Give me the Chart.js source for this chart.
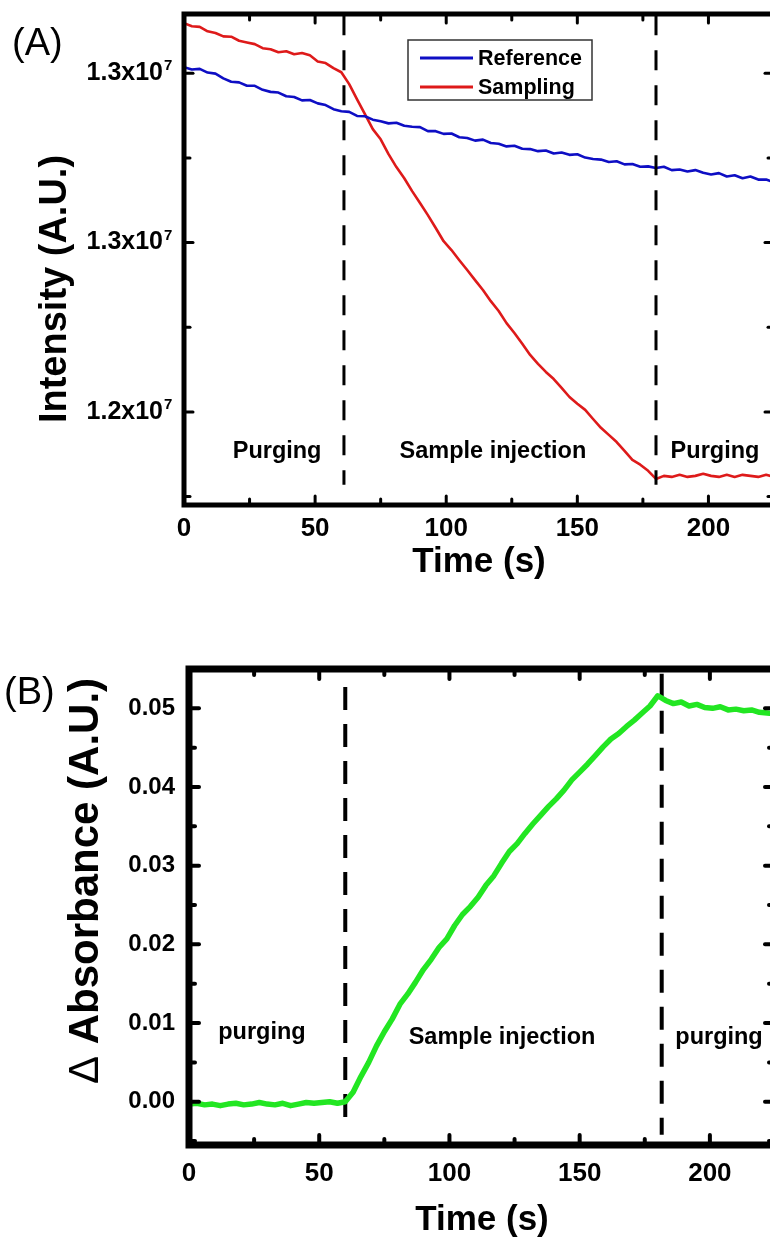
<!DOCTYPE html>
<html>
<head>
<meta charset="utf-8">
<title>Intensity and absorbance vs time</title>
<script src="https://cdn.jsdelivr.net/npm/chart.js@4.4.1/dist/chart.umd.min.js"></script>
<style>
  html, body { margin: 0; padding: 0; background: #fff; }
  body { width: 770px; height: 1243px; overflow: hidden; position: relative; }
  .panel { position: absolute; left: 0; }
</style>
</head>
<body>
<div class="panel" style="top:0"><canvas id="graficoA" width="780" height="610"></canvas></div>
<div class="panel" style="top:620px"><canvas id="graficoB" width="780" height="623"></canvas></div>
<script>
// time axis (s), shared by both panels
const timeS = [0, 3, 6, 9, 12, 15, 18, 21, 24, 27, 30, 33, 36, 39, 42, 45, 48, 51, 54, 57,
  60, 63, 66, 69, 72, 75, 78, 81, 84, 87, 90, 93, 96, 99, 102, 105, 108, 111, 114, 117,
  120, 123, 126, 129, 132, 135, 138, 141, 144, 147, 150, 153, 156, 159, 162, 165, 168, 171, 174, 177,
  180, 183, 186, 189, 192, 195, 198, 201, 204, 207, 210, 213, 216, 219, 222, 225];

// panel A: detector intensity (counts)
const referenceIntensity = [13018000, 13011000, 13013000, 13002000, 12999000, 12985000, 12975000, 12973000, 12963000, 12963000,
  12951000, 12945000, 12943000, 12932000, 12930000, 12920000, 12921000, 12911000, 12906000, 12894000,
  12888000, 12886000, 12874000, 12873000, 12863000, 12858000, 12852000, 12854000, 12845000, 12842000,
  12841000, 12829000, 12829000, 12821000, 12822000, 12811000, 12809000, 12801000, 12804000, 12794000,
  12792000, 12784000, 12786000, 12777000, 12776000, 12770000, 12772000, 12763000, 12766000, 12759000,
  12761000, 12751000, 12747000, 12745000, 12738000, 12740000, 12731000, 12732000, 12724000, 12725000,
  12720000, 12724000, 12714000, 12716000, 12710000, 12714000, 12706000, 12701000, 12705000, 12695000,
  12699000, 12690000, 12695000, 12686000, 12686000, 12678000];
const samplingIntensity = [13148000, 13139000, 13137000, 13124000, 13119000, 13109000, 13108000, 13096000, 13091000, 13086000,
  13074000, 13071000, 13062000, 13065000, 13056000, 13060000, 13053000, 13035000, 13030000, 13015000,
  13003000, 12968000, 12923000, 12879000, 12835000, 12805000, 12761000, 12723000, 12690000, 12652000,
  12617000, 12581000, 12543000, 12504000, 12478000, 12448000, 12419000, 12389000, 12360000, 12327000,
  12298000, 12262000, 12233000, 12201000, 12168000, 12142000, 12118000, 12097000, 12071000, 12044000,
  12024000, 12006000, 11979000, 11953000, 11932000, 11911000, 11885000, 11858000, 11844000, 11826000,
  11802000, 11811000, 11808000, 11814000, 11808000, 11811000, 11817000, 11811000, 11808000, 11814000,
  11808000, 11814000, 11811000, 11808000, 11814000, 11808000];

// panel B: change in absorbance
const deltaAbsorbance = [-0.0003, -0.0002, -0.0004, -0.0003, -0.0005, -0.0003, -0.0002, -0.0004, -0.0003, -0.0001,
  -0.0003, -0.0004, -0.0002, -0.0005, -0.0003, -0.0001, -0.0002, -0.0001, 0.0000, -0.0002,
  0.0000, 0.0012, 0.0032, 0.0050, 0.0071, 0.0089, 0.0105, 0.0124, 0.0137, 0.0152,
  0.0168, 0.0181, 0.0196, 0.0207, 0.0224, 0.0238, 0.0248, 0.0260, 0.0275, 0.0287,
  0.0303, 0.0318, 0.0328, 0.0341, 0.0353, 0.0364, 0.0375, 0.0385, 0.0396, 0.0409,
  0.0419, 0.0429, 0.0440, 0.0451, 0.0461, 0.0468, 0.0477, 0.0485, 0.0494, 0.0503,
  0.0516, 0.0510, 0.0506, 0.0508, 0.0503, 0.0505, 0.0501, 0.0500, 0.0502, 0.0498,
  0.0499, 0.0497, 0.0498, 0.0495, 0.0494, 0.0493];

// phase boundaries (s) and the span of the dashed markers
const switchTimesA = [61, 180];
const switchSpanA = [13171000, 11785000];
const switchTimesB = [60, 181.5];
const switchSpanB = [[0.0527, -0.0036], [0.0544, -0.0042]];

// ticks
const xTicks = [0, 50, 100, 150, 200];
const xMinorTicks = [25, 75, 125, 175, 225];
const yTicksA = [12000000, 12500000, 13000000];
const yTickLabelsA = ['1.2x10', '1.3x10', '1.3x10'];
const yExponentA = '7';
const yMinorTicksA = [11750000, 12250000, 12750000];
const yTicksB = [0, 0.01, 0.02, 0.03, 0.04, 0.05];
const yTickLabelsB = ['0.00', '0.01', '0.02', '0.03', '0.04', '0.05'];
const yMinorTicksB = [-0.005, 0.005, 0.015, 0.025, 0.035, 0.045];

const FAMILY = '"Liberation Sans", Arial, Helvetica, sans-serif';
Chart.defaults.font.family = FAMILY;
Chart.defaults.color = '#000';

const toXY = (ys) => timeS.map((t, i) => ({ x: t, y: ys[i] }));

// box, inward ticks, exponents, phase names, rotated y title, key and panel letter
const decorPanel = {
  id: 'decorPanel',
  afterDatasetsDraw(chart, args, o) {
    const ctx = chart.ctx;
    const a = chart.chartArea;
    const sx = chart.scales.x;
    const sy = chart.scales.y;
    ctx.save();
    ctx.strokeStyle = '#000';
    ctx.fillStyle = '#000';

    ctx.lineWidth = o.frame;
    ctx.strokeRect(a.left, a.top, a.right - a.left, a.bottom - a.top);

    ctx.lineWidth = o.tickWidth;
    ctx.lineCap = 'round';
    const mark = (x1, y1, x2, y2) => { ctx.beginPath(); ctx.moveTo(x1, y1); ctx.lineTo(x2, y2); ctx.stroke(); };
    const xMarks = (vals, len) => vals.forEach(v => {
      const px = sx.getPixelForValue(v);
      mark(px, a.bottom, px, a.bottom - len);
      mark(px, a.top, px, a.top + len);
    });
    const yMarks = (vals, len) => vals.forEach(v => {
      const py = sy.getPixelForValue(v);
      mark(a.left, py, a.left + len, py);
      mark(a.right, py, a.right - len, py);
    });
    xMarks(o.xMajor, o.majorLen);
    xMarks(o.xMinor, o.minorLen);
    yMarks(o.yMajor, o.majorLen);
    yMarks(o.yMinor, o.minorLen);

    // power of ten written small beside each y label
    if (o.exponent) {
      ctx.font = `bold ${o.exponent.size}px ${FAMILY}`;
      ctx.textAlign = 'left';
      ctx.textBaseline = 'middle';
      o.yMajor.forEach(v => ctx.fillText(o.exponent.text, a.left - o.exponent.dx, sy.getPixelForValue(v) - o.exponent.dy));
    }

    // phase names
    ctx.font = `bold ${o.noteSize}px ${FAMILY}`;
    ctx.textAlign = 'center';
    ctx.textBaseline = 'middle';
    o.notes.forEach(n => ctx.fillText(n.text, sx.getPixelForValue(n.x), sy.getPixelForValue(n.y)));

    // y title, pieces may differ in weight
    const t = o.yTitle;
    const widths = t.parts.map(p => {
      ctx.font = `${p.weight} ${t.size}px ${FAMILY}`;
      return ctx.measureText(p.text).width;
    });
    const total = widths.reduce((s, w) => s + w, 0);
    ctx.save();
    ctx.translate(t.x, t.y);
    ctx.rotate(-Math.PI / 2);
    ctx.textAlign = 'left';
    let cx = -total / 2;
    t.parts.forEach((p, i) => {
      ctx.font = `${p.weight} ${t.size}px ${FAMILY}`;
      ctx.fillText(p.text, cx, 0);
      cx += widths[i];
    });
    ctx.restore();

    // key
    if (o.key) {
      const k = o.key;
      const bx = a.left + k.dx;
      const by = a.top + k.dy;
      ctx.lineWidth = 1.5;
      ctx.strokeStyle = '#333';
      ctx.lineCap = 'butt';
      ctx.strokeRect(bx, by, k.w, k.h);
      ctx.font = `bold ${k.size}px ${FAMILY}`;
      ctx.textAlign = 'left';
      chart.data.datasets.filter(d => d.inKey).forEach((d, i) => {
        const ly = by + k.row0 + i * k.rowGap;
        ctx.strokeStyle = d.borderColor;
        ctx.lineWidth = 3;
        mark(bx + 12, ly, bx + 65, ly);
        ctx.fillText(d.label, bx + 70, ly + 1);
      });
    }

    // panel letter
    ctx.font = `normal ${o.tag.size}px ${FAMILY}`;
    ctx.textAlign = 'left';
    ctx.fillText(o.tag.text, o.tag.x, o.tag.y);
    ctx.restore();
  }
};

function xScale(height, labelPad, titlePad) {
  return {
    type: 'linear', min: 0, max: 225,
    grid: { display: false, drawTicks: false },
    border: { display: false },
    afterBuildTicks: s => { s.ticks = xTicks.map(v => ({ value: v })); },
    afterFit: s => { s.height = height; },
    ticks: { autoSkip: false, maxRotation: 0, padding: labelPad, font: { size: 26, weight: 'bold' }, callback: v => String(v) },
    title: { display: true, text: 'Time (s)', font: { size: 35, weight: 'bold' }, padding: { top: 0, bottom: titlePad } }
  };
}

function yScale(min, max, ticks, labels, width, pad, size) {
  return {
    type: 'linear', min: min, max: max,
    grid: { display: false, drawTicks: false },
    border: { display: false },
    afterBuildTicks: s => { s.ticks = ticks.map(v => ({ value: v })); },
    afterFit: s => { s.width = width; s.paddingTop = 0; s.paddingBottom = 0; },
    ticks: { padding: pad, font: { size: size, weight: 'bold' }, callback: (v, i) => labels[i] }
  };
}

const vline = (t, top, bottom) => [{ x: t, y: top }, { x: t, y: bottom }];

new Chart(document.getElementById('graficoA'), {
  type: 'line',
  data: {
    datasets: [
      { label: 'start', data: vline(switchTimesA[0], switchSpanA[0], switchSpanA[1]), borderColor: '#000', borderWidth: 3, borderDash: [20, 15] },
      { label: 'stop', data: vline(switchTimesA[1], switchSpanA[0], switchSpanA[1]), borderColor: '#000', borderWidth: 3, borderDash: [20, 15] },
      { label: 'Reference', inKey: true, data: toXY(referenceIntensity), borderColor: 'rgb(14,14,196)', borderWidth: 2.6 },
      { label: 'Sampling', inKey: true, data: toXY(samplingIntensity), borderColor: 'rgb(222,26,26)', borderWidth: 2.6 }
    ]
  },
  options: {
    responsive: false,
    animation: false,
    devicePixelRatio: 1,
    layout: { padding: { top: 14, right: 6, bottom: 0, left: 0 } },
    elements: { point: { radius: 0 }, line: { tension: 0, borderJoinStyle: 'round' } },
    scales: {
      x: xScale(105, 8, 27),
      y: yScale(11725000, 13175000, yTicksA, yTickLabelsA, 184, 21, 25)
    },
    plugins: {
      legend: { display: false },
      tooltip: { enabled: false },
      decorPanel: {
        frame: 5, tickWidth: 3, majorLen: 9, minorLen: 6,
        xMajor: xTicks, xMinor: xMinorTicks, yMajor: yTicksA, yMinor: yMinorTicksA,
        exponent: { text: yExponentA, size: 15, dx: 20, dy: 7 },
        noteSize: 23.5,
        notes: [
          { text: 'Purging', x: 35.5, y: 11882000 },
          { text: 'Sample injection', x: 117.8, y: 11882000 },
          { text: 'Purging', x: 202.5, y: 11882000 }
        ],
        yTitle: { x: 56, y: 289, size: 38, parts: [{ text: 'Intensity (A.U.)', weight: 'bold' }] },
        key: { dx: 224, dy: 26, w: 184, h: 60, row0: 18, rowGap: 29, size: 21.5 },
        tag: { text: '(A)', x: 12, y: 45, size: 38 }
      }
    }
  },
  plugins: [decorPanel]
});

new Chart(document.getElementById('graficoB'), {
  type: 'line',
  data: {
    datasets: [
      { label: '\u0394 Absorbance', data: toXY(deltaAbsorbance), borderColor: 'rgb(34,230,34)', borderWidth: 5.5 },
      { label: 'start', data: vline(switchTimesB[0], switchSpanB[0][0], switchSpanB[0][1]), borderColor: '#000', borderWidth: 4, borderDash: [23, 14] },
      { label: 'stop', data: vline(switchTimesB[1], switchSpanB[1][0], switchSpanB[1][1]), borderColor: '#000', borderWidth: 4, borderDash: [23, 14] }
    ]
  },
  options: {
    responsive: false,
    animation: false,
    devicePixelRatio: 1,
    layout: { padding: { top: 49, right: 5, bottom: 0, left: 0 } },
    elements: { point: { radius: 0 }, line: { tension: 0, borderJoinStyle: 'round' } },
    scales: {
      x: xScale(98, 13, 2),
      y: yScale(-0.0055, 0.055, yTicksB, yTickLabelsB, 189, 14, 24)
    },
    plugins: {
      legend: { display: false },
      tooltip: { enabled: false },
      decorPanel: {
        frame: 7, tickWidth: 4, majorLen: 10, minorLen: 6,
        xMajor: xTicks, xMinor: xMinorTicks, yMajor: yTicksB, yMinor: yMinorTicksB,
        noteSize: 23.5,
        notes: [
          { text: 'purging', x: 28, y: 0.0088 },
          { text: 'Sample injection', x: 120.2, y: 0.0081 },
          { text: 'purging', x: 203.5, y: 0.0081 }
        ],
        yTitle: { x: 86, y: 261, size: 42, parts: [{ text: '\u0394 ', weight: 'normal' }, { text: 'Absorbance (A.U.)', weight: 'bold' }] },
        tag: { text: '(B)', x: 4, y: 74, size: 38 }
      }
    }
  },
  plugins: [decorPanel]
});
</script>
</body>
</html>
